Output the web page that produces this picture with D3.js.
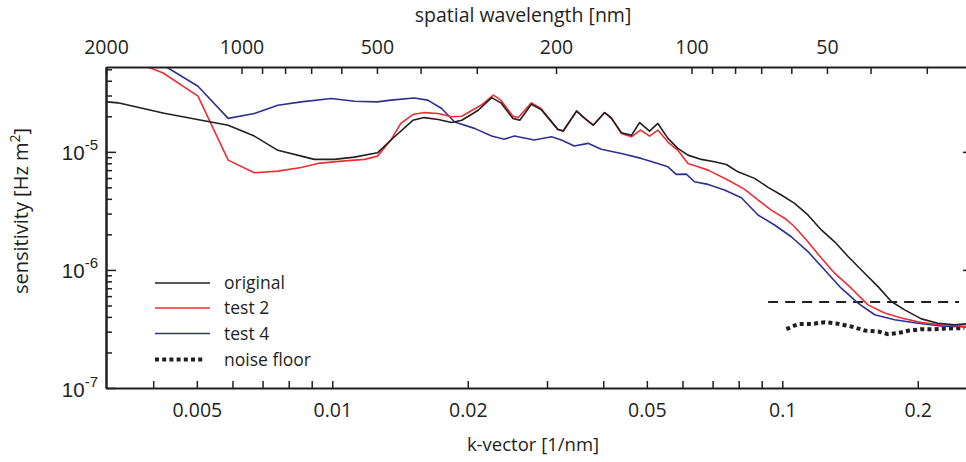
<!DOCTYPE html>
<html><head><meta charset="utf-8">
<script src="https://cdn.jsdelivr.net/npm/d3@7"></script>
<style>
html,body{margin:0;padding:0;background:#fff;}
svg{display:block;font-family:"Open Sans",sans-serif;}
</style></head><body>
<svg id="chart" width="966" height="462"></svg>
<script>
// ---------- data ----------
const kOriginal = [0.00316,0.00334,0.00423,0.00512,0.00587,0.00671,0.00757,0.00912,0.0101,0.0112,0.0126,0.0135,0.0151,0.0160,0.0172,0.0184,0.0194,0.0211,0.0226,0.0237,0.0252,0.0261,0.0277,0.0291,0.0317,0.0326,0.0349,0.0364,0.0380,0.0403,0.0417,0.0439,0.0462,0.0482,0.0507,0.0529,0.0557,0.0586,0.0617,0.0661,0.0707,0.0751,0.0797,0.0868,0.0930,0.0995,0.1065,0.1140,0.1221,0.1307,0.1400,0.1524,0.1632,0.1747,0.1870,0.2037,0.2218,0.2415,0.2577];
const sOriginal = [2.65e-5,2.60e-5,2.12e-5,1.85e-5,1.68e-5,1.36e-5,1.03e-5,8.63e-6,8.63e-6,9.02e-6,9.81e-6,1.26e-5,1.85e-5,1.95e-5,1.88e-5,1.77e-5,1.85e-5,2.25e-5,2.88e-5,2.60e-5,1.92e-5,1.85e-5,2.53e-5,2.28e-5,1.55e-5,1.50e-5,2.21e-5,1.92e-5,1.68e-5,2.15e-5,1.92e-5,1.45e-5,1.38e-5,1.77e-5,1.50e-5,1.74e-5,1.30e-5,1.07e-5,9.38e-6,8.63e-6,8.23e-6,7.82e-6,6.77e-6,5.96e-6,5.00e-6,4.31e-6,3.66e-6,2.92e-6,2.18e-6,1.73e-6,1.30e-6,9.38e-7,7.22e-7,5.40e-7,4.59e-7,3.85e-7,3.54e-7,3.43e-7,3.50e-7];

const kTest2 = [0.00389,0.00421,0.00503,0.00587,0.00671,0.00757,0.00853,0.00929,0.0105,0.0118,0.0126,0.0135,0.0142,0.0151,0.0160,0.0172,0.0184,0.0194,0.0214,0.0228,0.0237,0.0252,0.0259,0.0277,0.0291,0.0317,0.0326,0.0349,0.0364,0.0380,0.0403,0.0417,0.0439,0.0462,0.0484,0.0507,0.0529,0.0557,0.0586,0.0617,0.0650,0.0684,0.0757,0.0825,0.0883,0.0945,0.1012,0.1065,0.1140,0.1221,0.1307,0.1423,0.1550,0.1688,0.1839,0.2037,0.2256,0.2577];
const sTest2 = [5.23e-5,4.65e-5,2.96e-5,8.51e-6,6.65e-6,6.87e-6,7.38e-6,7.98e-6,8.34e-6,8.63e-6,9.20e-6,1.26e-5,1.74e-5,2.07e-5,2.15e-5,2.11e-5,1.98e-5,2.00e-5,2.48e-5,3.02e-5,2.74e-5,2.00e-5,1.95e-5,2.60e-5,2.33e-5,1.55e-5,1.50e-5,2.22e-5,1.92e-5,1.68e-5,2.15e-5,1.95e-5,1.43e-5,1.34e-5,1.53e-5,1.36e-5,1.53e-5,1.21e-5,1.03e-5,7.98e-6,7.47e-6,7.00e-6,5.77e-6,4.81e-6,3.91e-6,3.21e-6,2.74e-6,2.32e-6,1.73e-6,1.26e-6,9.38e-7,7.00e-7,5.06e-7,4.31e-7,3.91e-7,3.58e-7,3.43e-7,3.32e-7];

const kTest4 = [0.00428,0.00503,0.00587,0.00671,0.00757,0.00853,0.00995,0.0112,0.0126,0.0135,0.0152,0.0163,0.0175,0.0187,0.0207,0.0226,0.0241,0.0254,0.0281,0.0307,0.0323,0.0345,0.0370,0.0396,0.0439,0.0486,0.0520,0.0557,0.0581,0.0612,0.0638,0.0684,0.0744,0.0811,0.0883,0.0961,0.1047,0.1140,0.1242,0.1352,0.1473,0.1604,0.1777,0.2003,0.2256,0.2577];
const sTest4 = [5.23e-5,3.59e-5,1.92e-5,2.11e-5,2.48e-5,2.65e-5,2.83e-5,2.68e-5,2.65e-5,2.74e-5,2.86e-5,2.74e-5,2.33e-5,1.79e-5,1.58e-5,1.36e-5,1.28e-5,1.36e-5,1.26e-5,1.34e-5,1.26e-5,1.12e-5,1.18e-5,1.05e-5,9.69e-6,8.80e-6,8.14e-6,7.47e-6,6.44e-6,6.48e-6,5.58e-6,5.30e-6,4.75e-6,4.08e-6,2.92e-6,2.40e-6,1.91e-6,1.43e-6,1.00e-6,7.00e-7,5.23e-7,4.17e-7,3.78e-7,3.54e-7,3.36e-7,3.28e-7];

const kNoise = [0.1021,0.1084,0.1160,0.1242,0.1330,0.1423,0.1524,0.1632,0.1718,0.1808,0.1903,0.2037,0.2180,0.2335,0.2538];
const sNoise = [3.15e-7,3.48e-7,3.48e-7,3.61e-7,3.50e-7,3.32e-7,3.07e-7,3.01e-7,2.86e-7,2.92e-7,3.05e-7,3.15e-7,3.15e-7,3.19e-7,3.22e-7];

const kThreshold = [0.0930, 0.2470];
const sThreshold = [5.35e-7, 5.35e-7];

const seriesNames = ["original","test 2","test 4","noise floor"];
const bottomTickLabels = [0.005,0.01,0.02,0.05,0.1,0.2];
const bottomTickValues = [0.004,0.005,0.006,0.007,0.008,0.009,0.01,0.02,0.03,0.04,0.05,0.06,0.07,0.08,0.09,0.1,0.2];
const topTickLabels = [2000,1000,500,200,100,50];
const topTickValues = [2000,1000,900,800,700,600,500,400,300,200,100,90,80,70,60,50,40,30];
const leftMajorTicks = [1e-7,1e-6,1e-5];
const leftMinorTicks = [2e-7,3e-7,4e-7,5e-7,6e-7,7e-7,8e-7,9e-7,2e-6,3e-6,4e-6,5e-6,6e-6,7e-6,8e-6,9e-6,2e-5,3e-5,4e-5,5e-5];
const kDomain = [0.0031416, 0.2586];
const sDomain = [1e-7, 5.23e-5];

// ---------- drawing ----------
const svg = d3.select("#chart");
const X0 = 106, X1 = 968, Y0 = 67, Y1 = 388;
const ink = "#231f20";
const x = d3.scaleLog().domain(kDomain).range([X0, X1]);
const xTop = d3.scaleLog().domain(kDomain.map(k => 2*Math.PI/k)).range([X0, X1]);
const y = d3.scaleLog().domain(sDomain).range([Y1, Y0]);

svg.append("defs").append("clipPath").attr("id","clip")
  .append("rect").attr("x",X0).attr("y",Y0).attr("width",X1-X0).attr("height",Y1-Y0);

const line = d3.line().x(d => x(d[0])).y(d => y(d[1]));
const zip = (a,b) => a.map((v,i) => [v,b[i]]);
const g = svg.append("g").attr("clip-path","url(#clip)");

g.append("path").datum(zip(kThreshold,sThreshold)).attr("d",line)
  .attr("fill","none").attr("stroke",ink).attr("stroke-width",2).attr("stroke-dasharray","10,7");
g.append("path").datum(zip(kNoise,sNoise)).attr("d",line)
  .attr("fill","none").attr("stroke",ink).attr("stroke-width",4).attr("stroke-dasharray","4,3.2");
const colors = ["#231f20","#ee2e34","#2e3192"];
[[kTest4,sTest4,colors[2]],[kTest2,sTest2,colors[1]],[kOriginal,sOriginal,colors[0]]].forEach(([k,s,c]) => {
  g.append("path").datum(zip(k,s)).attr("d",line)
    .attr("fill","none").attr("stroke",c).attr("stroke-width",1.6).attr("stroke-linejoin","round");
});

// axes
function styleAxis(sel){
  sel.select(".domain").attr("stroke",ink).attr("stroke-width",2);
  sel.selectAll(".tick line").attr("stroke",ink).attr("stroke-width",1.5);
  sel.selectAll("text").attr("fill",ink).attr("font-size",19.5).attr("font-family","Open Sans");
}
const fmtB = d => bottomTickLabels.includes(d) ? String(d) : "";
const axB = svg.append("g").attr("transform",`translate(0,${Y1})`)
  .call(d3.axisBottom(x).tickValues(bottomTickValues).tickSize(-7).tickSizeOuter(0).tickFormat(fmtB));
styleAxis(axB); axB.selectAll("text").attr("dy","0.71em").attr("y",15);

const fmtT = d => topTickLabels.includes(d) ? String(d) : "";
const axT = svg.append("g").attr("transform",`translate(0,${Y0})`)
  .call(d3.axisTop(xTop).tickValues(topTickValues).tickSize(-7).tickSizeOuter(0).tickFormat(fmtT));
styleAxis(axT); axT.selectAll("text").attr("y",-13).attr("dy",0);

const axLm = svg.append("g").attr("transform",`translate(${X0},0)`)
  .call(d3.axisLeft(y).tickValues(leftMinorTicks).tickSize(-6).tickSizeOuter(0).tickFormat(""));
styleAxis(axLm);
const axL = svg.append("g").attr("transform",`translate(${X0},0)`)
  .call(d3.axisLeft(y).tickValues(leftMajorTicks).tickSize(-10).tickSizeOuter(0).tickFormat(""));
styleAxis(axL);
axL.selectAll(".tick").append("text").attr("x",-8).attr("y",8).attr("text-anchor","end")
  .attr("fill",ink).attr("font-size",20.5)
  .each(function(d){
    const t = d3.select(this);
    t.append("tspan").text("10");
    t.append("tspan").attr("dy",-10).attr("font-size",15).text("-" + Math.round(-Math.log10(d)));
  });
const axR = svg.append("g").attr("transform",`translate(${X1},0)`)
  .call(d3.axisRight(y).tickValues([1e-6,1e-5]).tickSize(-5).tickSizeOuter(0).tickFormat(""));
styleAxis(axR);

// titles
svg.append("text").attr("x",523).attr("y",22).attr("text-anchor","middle")
  .attr("font-size",19.5).attr("fill",ink).text("spatial wavelength [nm]");
svg.append("text").attr("x",533).attr("y",451).attr("text-anchor","middle")
  .attr("font-size",18.5).attr("fill",ink).text("k-vector [1/nm]");
const yt = svg.append("text").attr("transform","translate(28,211) rotate(-90)").attr("text-anchor","middle")
  .attr("font-size",20).attr("fill",ink);
yt.append("tspan").text("sensitivity [Hz m");
yt.append("tspan").attr("dy",-8).attr("font-size",14).text("2");
yt.append("tspan").attr("dy",8).text("]");

// legend
const legY = [283, 308, 333.5, 359.5];
const legStyles = [
  {c:colors[0], w:1.6, dash:null},
  {c:colors[1], w:1.6, dash:null},
  {c:colors[2], w:1.6, dash:null},
  {c:ink, w:4, dash:"4,3.2"}
];
const leg = svg.append("g");
seriesNames.forEach((n,i) => {
  const s = legStyles[i];
  leg.append("line").attr("x1",155).attr("x2",i===3?205:210).attr("y1",legY[i]).attr("y2",legY[i])
    .attr("stroke",s.c).attr("stroke-width",s.w).attr("stroke-dasharray",s.dash);
  leg.append("text").attr("x",224).attr("y",legY[i]+6).attr("font-size",17.5).attr("fill",ink).text(n);
});
</script>
</body></html>
